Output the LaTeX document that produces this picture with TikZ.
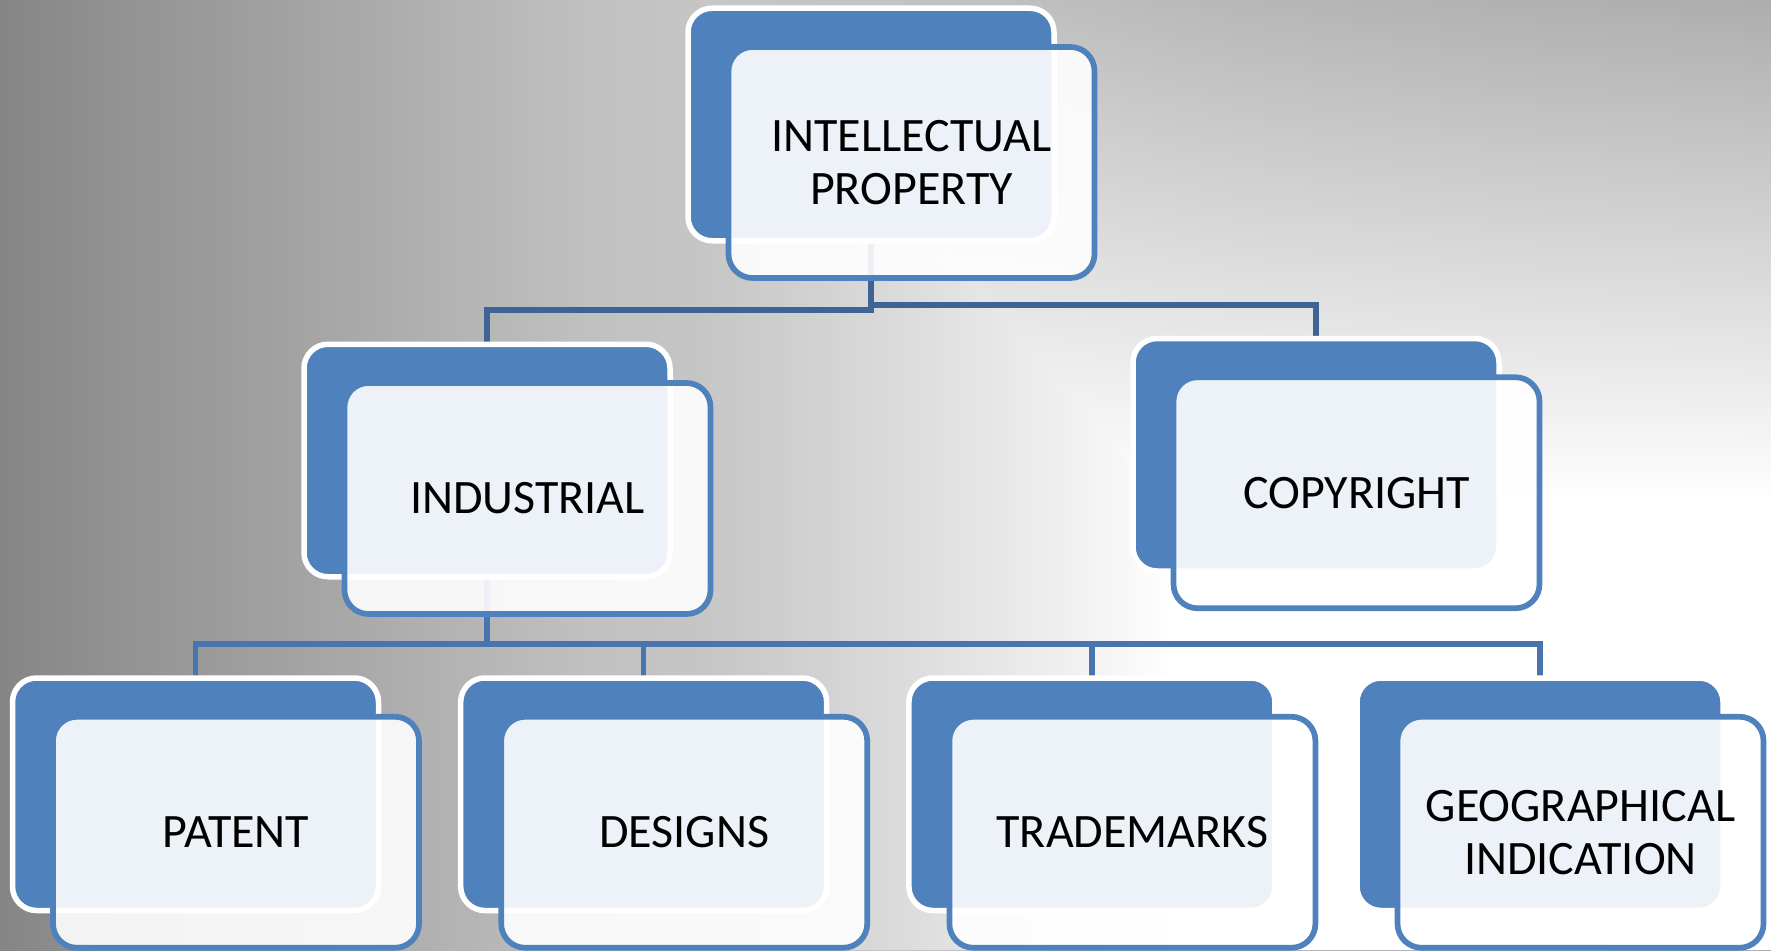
\documentclass[tikz,border=0pt]{standalone}
\usepackage{fontspec}
\setmainfont{Carlito}
\usetikzlibrary{fadings,backgrounds}

\definecolor{ipblue}{RGB}{79,129,189}
\definecolor{linkdark}{RGB}{62,100,150}
\definecolor{linkblue}{RGB}{72,117,175}

% grey backdrop, light in the middle, dark on the left
\pgfdeclarehorizontalshading{greybg}{100bp}{rgb(0bp)=(0.522,0.522,0.522); rgb(25bp)=(0.522,0.522,0.522); rgb(28bp)=(0.569,0.569,0.569); rgb(32.5bp)=(0.627,0.627,0.627); rgb(37.5bp)=(0.698,0.698,0.698); rgb(41.5bp)=(0.753,0.753,0.753); rgb(45bp)=(0.776,0.776,0.776); rgb(52.5bp)=(0.753,0.753,0.753); rgb(60bp)=(0.714,0.714,0.714); rgb(67.5bp)=(0.690,0.690,0.690); rgb(75bp)=(0.675,0.675,0.675); rgb(100bp)=(0.675,0.675,0.675)}
% rectangular white glow towards the lower right
\begin{tikzfadingfrompicture}[name=glowrect, x=1pt, y=1pt]
  \shade[left color=transparent!100, right color=transparent!0] (-770,-755) -- (-300,-245) -- (-300,245) -- (-770,755) -- cycle;
  \shade[left color=transparent!0, right color=transparent!100] (770,-755) -- (300,-245) -- (300,245) -- (770,755) -- cycle;
  \shade[top color=transparent!100, bottom color=transparent!0] (-776,755) -- (776,755) -- (306,245) -- (-306,245) -- cycle;
  \shade[top color=transparent!0, bottom color=transparent!100] (-776,-755) -- (776,-755) -- (306,-245) -- (-306,-245) -- cycle;
  \fill[transparent!0] (-302,-247) rectangle (302,247);
\end{tikzfadingfrompicture}

\begin{document}
\begin{tikzpicture}[x=1pt, y=-1pt,
  backbox/.style={rectangle, rounded corners=24pt, fill=ipblue, draw=white, line width=5.5pt, minimum width=366pt, minimum height=232.5pt, inner sep=0pt, outer sep=0pt},
  frontbox/.style={rectangle, rounded corners=24pt, fill=white, fill opacity=0.9, text opacity=1, draw=ipblue, line width=5.7pt, minimum width=366pt, minimum height=231pt, inner sep=0pt, outer sep=0pt, align=center, font=\fontsize{48}{53}\selectfont},
  toplink/.style={draw=linkdark, line width=5.5pt},
  sublink/.style={draw=linkblue, line width=5.5pt}]
  \useasboundingbox (0,0) rectangle (1771,950);

  % top level
  \node[backbox] (ip) at (871,124.5) {};
  \node[frontbox] (ip-f) at ([shift={(40.5,38)}]ip.center) {INTELLECTUAL\\PROPERTY};

  % second level
  \node[backbox] (ind) at (487,460.5) {};
  \node[frontbox] (ind-f) at ([shift={(40.5,38)}]ind.center) {INDUSTRIAL};
  \node[backbox] (cr) at (1316,454.75) {};
  \node[frontbox] (cr-f) at ([shift={(40.5,38)}]cr.center) {COPYRIGHT};

  % third level
  \foreach \nm/\cx/\txt in {pat/195.5/PATENT, des/643.7/DESIGNS, tm/1091.9/TRADEMARKS, gi/1540/{GEOGRAPHICAL\\INDICATION}} {
    \node[backbox] (\nm) at (\cx,794.25) {};
    \node[frontbox] (\nm-f) at ([shift={(40.5,38)}]\nm.center) {\txt};
  }

  \begin{scope}[on background layer]
    \clip (0,0) rectangle (1771,950);
    \shade[shading=greybg] (0,0) rectangle (1771,950);
    \fill[white, path fading=glowrect, fit fading=false, fading transform={shift={(1470,745)}}]
      (0,0) rectangle (1771,950);
    % connectors
    \draw[toplink] (ip.south) -- ++(0,69.2) -| (ind.north);
    \draw[toplink] (ip.south) -- ++(0,64.3) -| (cr.north);
    \foreach \nm in {pat,des,tm,gi}
      \draw[sublink] (ind.south) -- ++(0,67.25) -| (\nm.north);
  \end{scope}
\end{tikzpicture}
\end{document}
